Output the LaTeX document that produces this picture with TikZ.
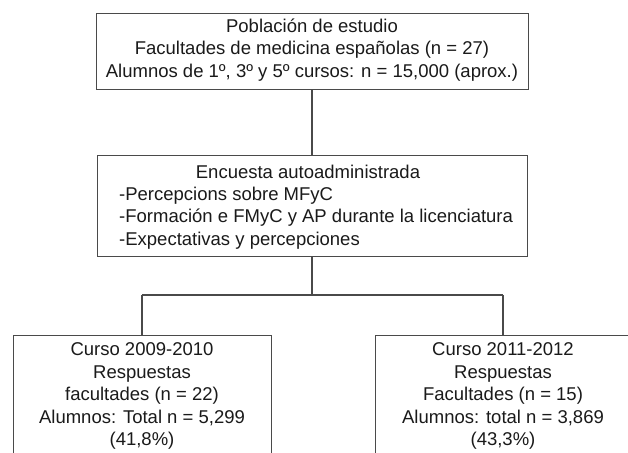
\documentclass[tikz,border=0pt]{standalone}
\usepackage{fontspec}
\setmainfont{Liberation Sans}
\definecolor{lineg}{HTML}{4A4A4A}
\definecolor{txtg}{HTML}{1A1A1A}
\begin{document}
\begin{tikzpicture}[x=1pt,y=-1pt,
  boxst/.style={draw=lineg, line width=1.4pt, inner sep=0pt, anchor=north west},
  txt/.style={text=txtg, inner sep=0pt, font=\fontsize{18.5}{22.5}\selectfont},
  conn/.style={draw=lineg, line width=1.4pt}]
\useasboundingbox (0,0) rectangle (628,452);
\clip (0,0) rectangle (628,452);
\fill[white] (0,0) rectangle (628,452);
% boxes
\node[boxst, minimum width=432pt, minimum height=76pt] (pop) at (96,13) {};
\node[boxst, minimum width=430pt, minimum height=101pt] (enc) at (97,155) {};
\node[boxst, minimum width=258pt, minimum height=200pt] (c1) at (13,335) {};
\node[boxst, minimum width=256pt, minimum height=200pt] (c2) at (375,335) {};
% texts
\node[txt, align=center] (popt) at (312,50) {Población de estudio\\Facultades de medicina españolas (n = 27)\\Alumnos de 1º, 3º y 5º cursos: n = 15,000 (aprox.)};
\node[txt] (enct) at (308,172) {Encuesta autoadministrada};
\node[txt, align=left, anchor=west] (encl) at (119,218) {-Percepcions sobre MFyC\\-Formación e FMyC y AP durante la licenciatura\\-Expectativas y percepciones};
\node[txt, align=center] (c1t) at (142,396) {Curso 2009-2010\\Respuestas\\facultades (n = 22)\\Alumnos: Total n = 5,299\\(41,8\%)};
\node[txt, align=center] (c2t) at (503,396) {Curso 2011-2012\\Respuestas\\Facultades (n = 15)\\Alumnos: total n = 3,869\\(43,3\%)};
% connectors
\coordinate (jm) at (312,295);
\coordinate (jl) at (142,295);
\coordinate (jr) at (503,295);
\draw[conn] (pop.south -| jm) -- (enc.north -| jm);
\draw[conn] (enc.south -| jm) -- (jm);
\draw[conn] (jl) -- (jr);
\draw[conn] (jl) -- (c1.north -| jl);
\draw[conn] (jr) -- (c2.north -| jr);
\end{tikzpicture}
\end{document}
